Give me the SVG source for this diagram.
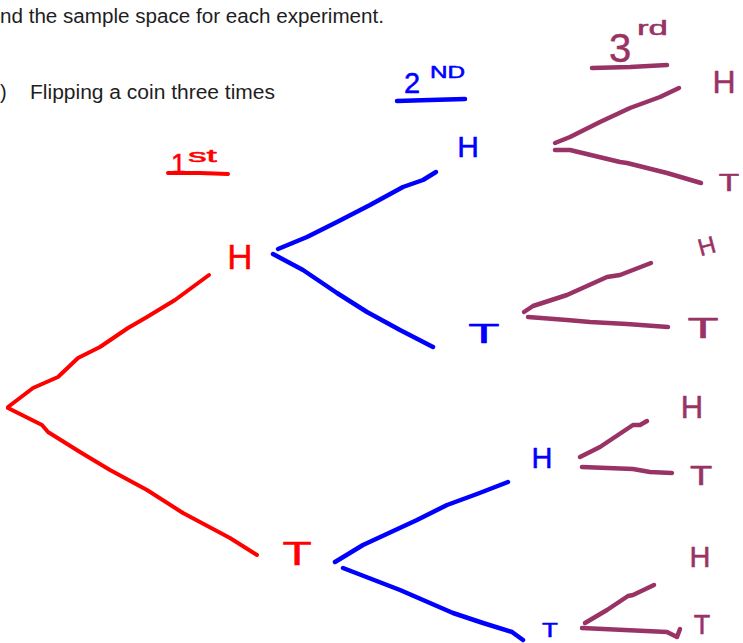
<svg xmlns="http://www.w3.org/2000/svg" width="743" height="643" viewBox="0 0 743 643">
<style>
.hdr{font-family:"Liberation Sans",Arial,sans-serif;font-size:20px;fill:#1e1e1e}
.hw{font-family:"Liberation Sans",Arial,sans-serif;stroke-linejoin:round}
.red{fill:#ff0000;stroke:#ff0000;stroke-width:0.5}
.blue{fill:#0000ff;stroke:#0000ff;stroke-width:0.5}
.pur{fill:#993366;stroke:#993366;stroke-width:0.5}
.ln{fill:none;stroke-linecap:round;stroke-linejoin:round}
.lr{stroke:#ff0000;stroke-width:4}
.lb{stroke:#0000ff;stroke-width:4.5}
.lp{stroke:#993366;stroke-width:4.5}
</style>
<rect width="743" height="643" fill="#ffffff"/>
<g id="header">
<text class="hdr" x="0" y="23" textLength="384" lengthAdjust="spacingAndGlyphs">nd the sample space for each experiment.</text>
<text class="hdr" x="0" y="99">)</text>
<text class="hdr" x="30" y="99" textLength="245" lengthAdjust="spacingAndGlyphs">Flipping a coin three times</text>
</g>
<g id="heading-1st">
<text class="hw red" x="171" y="173" font-size="27">1</text>
<text class="hw red" x="188" y="162" font-size="18" textLength="29" lengthAdjust="spacingAndGlyphs">st</text>
<polyline class="ln lr" points="168,173 200,173 228,174"/>
</g>
<g id="heading-2nd">
<text class="hw blue" x="404" y="93" font-size="29">2</text>
<text class="hw blue" x="430" y="78" font-size="16" textLength="35" lengthAdjust="spacingAndGlyphs">ND</text>
<polyline class="ln lb" points="397,101 430,100 465,99"/>
</g>
<g id="heading-3rd">
<text class="hw pur" x="620" y="62" font-size="40" text-anchor="middle">3</text>
<text class="hw pur" x="637" y="35" font-size="20" textLength="31" lengthAdjust="spacingAndGlyphs">rd</text>
<polyline class="ln lp" points="592,68 630,67 667,65"/>
</g>
<g id="connectors">
<polyline class="ln lr" points="8,407 33,388 58,377 78,358 100,347 128,328 147,317 175,300 209,275"/>
<polyline class="ln lr" points="8,408 42,425 48,432 80,452 110,470 147,490 183,513 230,538 257,555"/>
<polyline class="ln lb" points="278,249 307,237 337,222 370,205 403,187 423,180 436,172"/>
<polyline class="ln lb" points="273,254 303,270 337,293 367,312 400,330 433,347"/>
<polyline class="ln lb" points="335,562 363,545 417,520 447,505 477,494 508,482"/>
<polyline class="ln lb" points="343,568 400,590 453,613 483,623 512,632 523,640"/>
<polyline class="ln lp" points="555,143 570,137 600,122 630,108 660,97 679,88"/>
<polyline class="ln lp" points="555,150 570,150 620,162 627,163 667,173 701,183"/>
<polyline class="ln lp" points="524,312 533,306 567,295 607,277 620,275 651,263"/>
<polyline class="ln lp" points="528,317 567,320 590,322 627,324 668,327"/>
<polyline class="ln lp" points="580,457 600,447 633,425 640,425 647,421"/>
<polyline class="ln lp" points="582,467 633,469 650,472 672,473"/>
<polyline class="ln lp" points="585,623 607,610 628,596 633,595 654,585"/>
<polyline class="ln lp" points="582,628 667,632 677,637 680,629"/>
</g>
<g id="node-H1"><text class="hw red" x="240" y="269" font-size="35" text-anchor="middle">H</text></g>
<g id="node-T1"><text class="hw red" transform="translate(297,565) scale(1.45,1)" x="0" y="0" font-size="33" text-anchor="middle">T</text></g>
<g id="node-HH"><text class="hw blue" x="468" y="157" font-size="30" text-anchor="middle">H</text></g>
<g id="node-HT"><text class="hw blue" transform="translate(484,343) scale(1.9,1)" x="0" y="0" font-size="27" text-anchor="middle">T</text></g>
<g id="node-TH"><text class="hw blue" x="542" y="468" font-size="29" text-anchor="middle">H</text></g>
<g id="node-TT"><text class="hw blue" transform="translate(550,637) scale(1.3,1)" x="0" y="0" font-size="20" text-anchor="middle">T</text></g>
<g id="node-HHH"><text class="hw pur" x="724" y="93" font-size="32" text-anchor="middle">H</text></g>
<g id="node-HHT"><text class="hw pur" transform="translate(729,191) scale(1.4,1)" x="0" y="0" font-size="24" text-anchor="middle">T</text></g>
<g id="node-HTH"><text class="hw pur" transform="translate(709,254) rotate(-15)" x="0" y="0" font-size="24" text-anchor="middle">H</text></g>
<g id="node-HTT"><text class="hw pur" transform="translate(703,338) scale(1.7,1)" x="0" y="0" font-size="30" text-anchor="middle">T</text></g>
<g id="node-THH"><text class="hw pur" x="692" y="418" font-size="31" text-anchor="middle">H</text></g>
<g id="node-THT"><text class="hw pur" transform="translate(701,485) scale(1.3,1)" x="0" y="0" font-size="28" text-anchor="middle">T</text></g>
<g id="node-TTH"><text class="hw pur" x="700" y="567" font-size="29" text-anchor="middle">H</text></g>
<g id="node-TTT"><text class="hw pur" x="702" y="634" font-size="27" text-anchor="middle">T</text></g>
</svg>
